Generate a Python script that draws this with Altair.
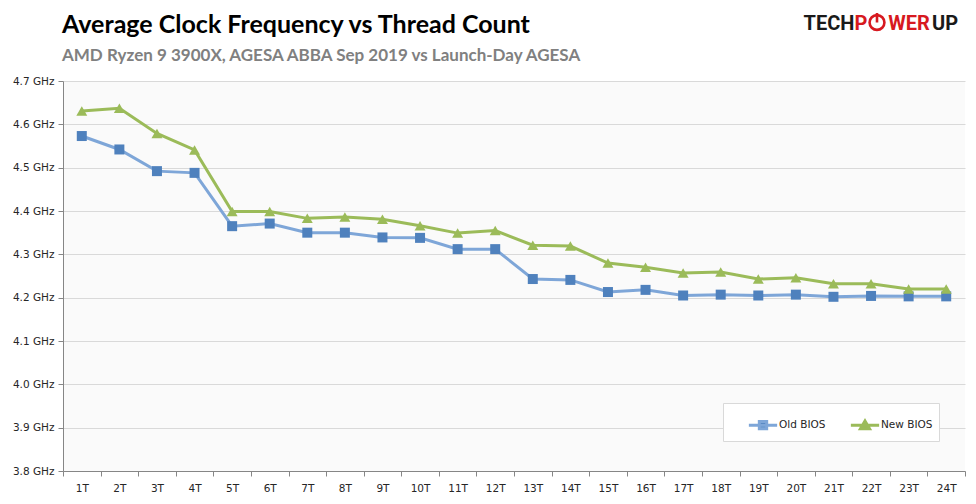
import altair as alt
import pandas as pd

threads = ["1T", "2T", "3T", "4T", "5T", "6T", "7T", "8T", "9T", "10T", "11T", "12T",
           "13T", "14T", "15T", "16T", "17T", "18T", "19T", "20T", "21T", "22T", "23T", "24T"]
old_bios = [4.573, 4.542, 4.492, 4.488, 4.365, 4.371, 4.350, 4.350, 4.339, 4.338, 4.312, 4.312,
            4.243, 4.241, 4.213, 4.218, 4.205, 4.207, 4.205, 4.207, 4.202, 4.204, 4.203, 4.203]
new_bios = [4.631, 4.637, 4.579, 4.541, 4.399, 4.399, 4.383, 4.386, 4.381, 4.366, 4.349, 4.355,
            4.321, 4.319, 4.280, 4.270, 4.257, 4.259, 4.243, 4.246, 4.232, 4.232, 4.220, 4.220]
series_names = ["Old BIOS", "New BIOS"]
y_ticks = [3.8, 3.9, 4.0, 4.1, 4.2, 4.3, 4.4, 4.5, 4.6, 4.7]
title_text = "Average Clock Frequency vs Thread Count"
subtitle_text = "AMD Ryzen 9 3900X, AGESA ABBA Sep 2019 vs Launch-Day AGESA"

line_colors = ["#7ea6d8", "#9bbb59"]
marker_colors = ["#4f81bd", "#9bbb59"]

rows = []
for t, o, n in zip(threads, old_bios, new_bios):
    rows.append({"thread": t, "series": "Old BIOS", "value": o})
    rows.append({"thread": t, "series": "New BIOS", "value": n})
df = pd.DataFrame(rows)

AX_FONT = "DejaVu Sans"

x_enc = alt.X("thread:N", sort=threads,
              scale=alt.Scale(paddingInner=0, paddingOuter=0),
              axis=alt.Axis(title=None, labelAngle=0, tickBand="extent", tickSize=5,
                            domainColor="#868686", tickColor="#868686", labelColor="#262626",
                            labelFont=AX_FONT, labelFontSize=10.5, labelPadding=7, grid=False))
y_enc = alt.Y("value:Q",
              scale=alt.Scale(domain=[3.8, 4.7], nice=False, zero=False),
              axis=alt.Axis(title=None, values=y_ticks, tickSize=5,
                            labelExpr="format(datum.value, '.1f') + ' GHz'",
                            domainColor="#868686", tickColor="#868686", labelColor="#262626",
                            labelFont=AX_FONT, labelFontSize=10.5, labelPadding=4,
                            gridColor="#d9d9d9", gridWidth=1))

base = alt.Chart(df)

lines = base.mark_line(strokeWidth=3).encode(
    x=x_enc, y=y_enc,
    color=alt.Color("series:N", scale=alt.Scale(domain=series_names, range=line_colors), legend=None),
    detail="series:N",
)

old_pts = base.transform_filter("datum.series == 'Old BIOS'").mark_point(
    shape="square", filled=True, size=100, opacity=1, color=marker_colors[0]
).encode(x=x_enc, y=y_enc)

new_pts = base.transform_filter("datum.series == 'New BIOS'").mark_point(
    shape="triangle-up", filled=True, size=120, opacity=1, color=marker_colors[1]
).encode(x=x_enc, y=y_enc)

legend_paths = [
    "M-1,0H1M-0.26,-0.26H0.26V0.26H-0.26Z",
    "M-1,0H1M0,-0.3L0.32,0.24H-0.32Z",
]
leg = alt.Legend(title="\u00a0", titleOrient="left", titlePadding=18, titleFontSize=10,
                 orient="none", legendX=660, legendY=322, direction="horizontal",
                 fillColor="white", strokeColor="#d9d9d9", padding=6, symbolOffset=0,
                 symbolSize=800, symbolStrokeWidth=3, labelFont=AX_FONT, labelFontSize=10.5,
                 labelColor="#262626", labelOffset=0, columnPadding=18,
                 labelExpr="datum.label == 'New BIOS' ? datum.label + '\u00a0\u00a0\u00a0\u00a0\u00a0' : datum.label")
legend_layer = base.transform_filter("datum.value < 0").mark_point(
    filled=True, strokeWidth=3, opacity=1
).encode(
    x=x_enc, y=y_enc,
    fill=alt.Fill("series:N", scale=alt.Scale(domain=series_names, range=marker_colors), legend=leg),
    stroke=alt.Stroke("series:N", scale=alt.Scale(domain=series_names, range=line_colors), legend=leg),
    shape=alt.Shape("series:N", scale=alt.Scale(domain=series_names, range=legend_paths), legend=leg),
)

one = pd.DataFrame({"k": [0]})

title = alt.Chart(one).mark_text(text=title_text, font="Lato", fontWeight="bold", fontSize=25,
                                 color="#000000", align="left", baseline="alphabetic").encode(
    x=alt.value(-1), y=alt.value(-48))
subtitle = alt.Chart(one).mark_text(text=subtitle_text, font="Lato", fontWeight="bold", fontSize=17,
                                    color="#808080", align="left", baseline="alphabetic").encode(
    x=alt.value(-1), y=alt.value(-20))

logo_font = "Roboto"
LS = 20
tech = alt.Chart(one).mark_text(text="TECH", font=logo_font, fontWeight="bold", fontSize=LS,
                                color="#1a1a1a", align="center", baseline="alphabetic").encode(
    x=alt.value(766), y=alt.value(-51))
p = alt.Chart(one).mark_text(text="P", font=logo_font, fontWeight="bold", fontSize=LS,
                             color="#d71920", align="center", baseline="alphabetic").encode(
    x=alt.value(798), y=alt.value(-51))
ring = alt.Chart(one).mark_point(shape="circle", filled=False, size=220, strokeWidth=2.6,
                                 color="#d71920", opacity=1).encode(x=alt.value(814), y=alt.value(-58.5))
stem = alt.Chart(one).mark_rule(color="#d71920", strokeWidth=2.6).encode(
    x=alt.value(814), y=alt.value(-68), y2=alt.value(-58.5))
wer = alt.Chart(one).mark_text(text="WER", font=logo_font, fontWeight="bold", fontSize=LS,
                               color="#d71920", align="center", baseline="alphabetic").encode(
    x=alt.value(846), y=alt.value(-51))
up = alt.Chart(one).mark_text(text="UP", font=logo_font, fontWeight="bold", fontSize=LS,
                              color="#1a1a1a", align="center", baseline="alphabetic").encode(
    x=alt.value(882), y=alt.value(-51))

chart = alt.layer(lines, old_pts, new_pts, legend_layer, title, subtitle,
                  tech, p, ring, stem, wer, up).resolve_scale(
    color="independent"
).properties(
    width=902, height=390,
    padding={"left": 55, "top": 73, "right": 3, "bottom": 25},
    autosize=alt.AutoSizeParams(type="none"),
    background="white",
).configure_view(fill="#fafafa", stroke=None)

chart.save("out.html", embed_options={"renderer": "svg", "actions": False})
